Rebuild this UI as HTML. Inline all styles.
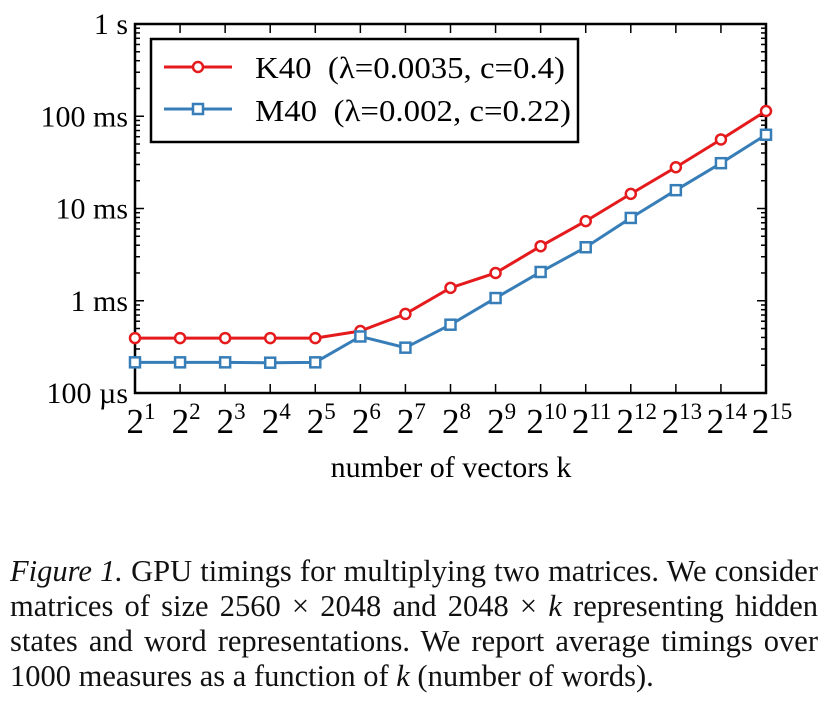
<!DOCTYPE html>
<html><head><meta charset="utf-8"><style>
body{margin:0;background:#fff;width:826px;height:709px;overflow:hidden}
svg text{font-family:"Liberation Serif",serif}
#cap{position:absolute;left:10px;top:554px;width:808px;font:30.5px/35px "Liberation Serif",serif;color:#111}
#cap div{text-align:justify;text-align-last:justify;white-space:nowrap}
#cap div.last{text-align-last:left}
</style></head><body>
<svg id="chart" width="826" height="520" style="position:absolute;left:0;top:0"></svg>
<div id="cap">
<div><i>Figure 1.</i> GPU timings for multiplying two matrices. We consider</div>
<div>matrices of size 2560 × 2048 and 2048 × <i>k</i> representing hidden</div>
<div>states and word representations. We report average timings over</div>
<div class="last">1000 measures as a function of <i>k</i> (number of words).</div>
</div>
<script>
const exponents=[1,2,3,4,5,6,7,8,9,10,11,12,13,14,15];
const k40=[0.394,0.394,0.394,0.394,0.394,0.47,0.72,1.38,2.0,3.9,7.3,14.4,28,56,114]; // ms
const m40=[0.215,0.215,0.215,0.213,0.215,0.41,0.31,0.55,1.07,2.05,3.8,7.9,15.8,31,63]; // ms
const yTickVals=[1000,100,10,1,0.1];
const yTickLabels=["1 s","100 ms","10 ms","1 ms","100 µs"];
const NS="http://www.w3.org/2000/svg";
const svg=document.getElementById('chart');
const L=135,R=766,T=24,B=393;
const xs=e=>L+(e-1)*(R-L)/14;
const ys=v=>B-(Math.log10(v)-Math.log10(0.1))*(B-T)/4;
function mk(t,a,p){const e=document.createElementNS(NS,t);for(const k in a)e.setAttribute(k,a[k]);(p||svg).appendChild(e);return e;}
const ticks=mk('g',{stroke:'#000','stroke-width':1.5});


exponents.forEach(e=>{const x=xs(e);mk('line',{x1:x,x2:x,y1:B,y2:B-9},ticks);mk('line',{x1:x,x2:x,y1:T,y2:T+9},ticks);});
for(let d=-1;d<3;d++)for(let m=1;m<10;m++){const v=m*Math.pow(10,d);if(v>=1000)continue;const y=ys(v);const len=m==1?9:5;mk('line',{x1:L,x2:L+len,y1:y,y2:y},ticks);mk('line',{x1:R,x2:R-len,y1:y,y2:y},ticks);}
const fr=mk('rect',{x:L,y:T,width:R-L,height:B-T,fill:'none',stroke:'#000','stroke-width':2.5});


yTickVals.forEach((v,i)=>{const t=mk('text',{x:L-7,y:ys(v)+10,'text-anchor':'end','font-size':30});t.textContent=yTickLabels[i];

});
exponents.forEach(e=>{const t=mk('text',{x:xs(e)+6,y:433,'text-anchor':'middle','font-size':35});


const a=mk('tspan',{},t);a.textContent='2';const b=mk('tspan',{dy:-14,'font-size':23},t);b.textContent=e;});
const xt=mk('text',{x:451,y:477,'text-anchor':'middle','font-size':30});xt.textContent='number of vectors k';


function series(vals,color,marker,name){const g=mk('g',{});


mk('polyline',{points:vals.map((v,i)=>xs(exponents[i])+','+ys(v)).join(' '),fill:'none',stroke:color,'stroke-width':3},g);
vals.forEach((v,i)=>{const x=xs(exponents[i]),y=ys(v);let m;
if(marker=='o')m=mk('circle',{cx:x,cy:y,r:5,fill:'#fff',stroke:color,'stroke-width':2.5},g);
else m=mk('rect',{x:x-5,y:y-5,width:10,height:10,fill:'#fff',stroke:color,'stroke-width':2.5},g);

});}
series(k40,'#e41a1c','o','series-k40');
series(m40,'#377eb8','s','series-m40');
const lg=mk('g',{});


mk('rect',{x:151,y:39,width:427,height:103,fill:'#fff',stroke:'#000','stroke-width':2.5},lg);
mk('line',{x1:164,x2:232,y1:67,y2:67,stroke:'#e41a1c','stroke-width':3},lg);
mk('circle',{cx:198,cy:67,r:5,fill:'#fff',stroke:'#e41a1c','stroke-width':2.5},lg);
mk('line',{x1:164,x2:232,y1:109,y2:109,stroke:'#377eb8','stroke-width':3},lg);
mk('rect',{x:193,y:104,width:10,height:10,fill:'#fff',stroke:'#377eb8','stroke-width':2.5},lg);
const t1=mk('text',{x:255,y:78,'font-size':31,textLength:310,lengthAdjust:'spacingAndGlyphs'},lg);t1.textContent='K40\u00a0\u00a0(λ=0.0035, c=0.4)';


const t2=mk('text',{x:255,y:121,'font-size':31,textLength:316,lengthAdjust:'spacingAndGlyphs'},lg);t2.textContent='M40\u00a0\u00a0(λ=0.002, c=0.22)';


</script>
</body></html>
